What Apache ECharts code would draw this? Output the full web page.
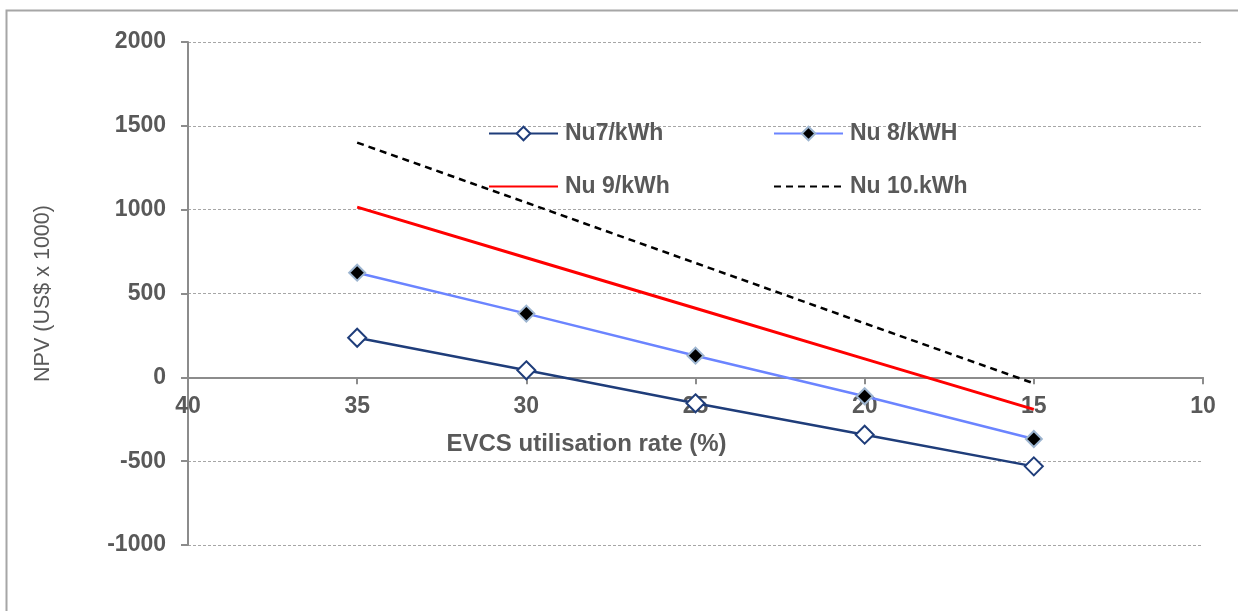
<!DOCTYPE html>
<html>
<head>
<meta charset="utf-8">
<script src="https://cdn.jsdelivr.net/npm/echarts@6/dist/echarts.min.js"></script>
<style>
  html, body { margin: 0; padding: 0; background: #fff; }
  #chart-container { width: 1238px; height: 611px; }
</style>
</head>
<body>
<div id="chart-container"></div>
<script>
// utilisation rate (%) on the x axis, NPV (US$ x 1000) on the y axis
const utilisation = [35, 30, 25, 20, 15];
const nu7 = [236, 42, -155, -342, -531];
const nu8 = [624, 380, 129, -113, -368];
const nu9 = [1015, 713, 412, 110, -191];
const nu10 = [1400, 1042, 682, 322, -36];
const seriesNames = ['Nu7/kWh', 'Nu 8/kWH', 'Nu 9/kWh', 'Nu 10.kWh'];

const pairs = (vals) => utilisation.map((u, i) => [u, vals[i]]);

const chartDom = document.getElementById('chart-container');
const myChart = echarts.init(chartDom);

const font = 'Liberation Sans';
const textGrey = '#595959';
const axisGrey = '#8c8c8c';

const gridTop = 42;
const gridBottom = 66;
const plotHeight = 611 - gridTop - gridBottom;
const yMin = -1000;
const yMax = 2000;
// x axis sits on NPV = 0, so lift it up from the grid bottom
const xAxisOffset = -plotHeight * (0 - yMin) / (yMax - yMin);

const legendBase = {
    orient: 'horizontal',
    padding: 0,
    itemWidth: 69,
    itemHeight: 17,
    textStyle: { fontFamily: font, fontSize: 23, fontWeight: 'bold', color: textGrey, padding: [0, 0, 0, 2] }
};

const option = {
    animation: false,
    graphic: [
        {
            type: 'rect',
            shape: { x: 6.5, y: 10.5, width: 1300, height: 700 },
            style: { fill: 'none', stroke: '#a6a6a6', lineWidth: 2 },
            silent: true
        }
    ],
    legend: [
        Object.assign({ data: [seriesNames[0]], left: 488, top: 122 }, legendBase),
        Object.assign({ data: [seriesNames[1]], left: 773, top: 122 }, legendBase),
        Object.assign({ data: [{ name: seriesNames[2], itemStyle: { opacity: 0 } }], left: 488, top: 175 }, legendBase),
        Object.assign({ data: [{ name: seriesNames[3], itemStyle: { opacity: 0 } }], left: 773, top: 175 }, legendBase)
    ],
    grid: {
        left: 188,
        right: 35,
        top: gridTop,
        bottom: gridBottom,
        containLabel: false
    },
    xAxis: {
        type: 'value',
        min: 10,
        max: 40,
        interval: 5,
        inverse: true,
        offset: xAxisOffset,
        name: 'EVCS utilisation rate (%)',
        nameLocation: 'middle',
        nameGap: 55,
        nameTextStyle: {
            fontFamily: font, fontSize: 24, fontWeight: 'bold', color: textGrey,
            padding: [0, 218, 0, 0]
        },
        axisLine: { onZero: false, lineStyle: { color: axisGrey, width: 2 } },
        axisTick: { show: true, length: 7, lineStyle: { color: axisGrey, width: 2 } },
        axisLabel: { margin: 18, fontFamily: font, fontSize: 23, fontWeight: 'bold', color: textGrey },
        splitLine: { show: false }
    },
    yAxis: {
        type: 'value',
        min: yMin,
        max: yMax,
        interval: 500,
        name: 'NPV (US$ x 1000)',
        nameLocation: 'middle',
        nameRotate: 90,
        nameGap: 134,
        nameTextStyle: { fontFamily: font, fontSize: 21.5, color: textGrey },
        axisLine: { show: true, lineStyle: { color: axisGrey, width: 2 } },
        axisTick: { show: true, length: 7, lineStyle: { color: axisGrey, width: 2 } },
        axisLabel: {
            margin: 22, fontFamily: font, fontSize: 23, fontWeight: 'bold', color: textGrey,
            formatter: (v) => String(v)
        },
        splitLine: { show: true, lineStyle: { color: '#a6a6a6', type: [3, 2], width: 1 } }
    },
    series: [
        {
            name: seriesNames[0],
            type: 'line',
            data: pairs(nu7),
            symbol: 'diamond',
            symbolSize: 18,
            lineStyle: { color: '#1f3d7a', width: 2.5 },
            itemStyle: { color: '#fff', borderColor: '#1f3d7a', borderWidth: 2 },
            z: 5
        },
        {
            name: seriesNames[1],
            type: 'line',
            data: pairs(nu8),
            symbol: 'diamond',
            symbolSize: 16,
            lineStyle: { color: '#6b84ff', width: 2.5 },
            itemStyle: { color: '#000', borderColor: '#9db5d0', borderWidth: 2 },
            z: 4
        },
        {
            name: seriesNames[2],
            type: 'line',
            data: pairs(nu9),
            symbol: 'none',
            lineStyle: { color: '#ff0000', width: 3 },
            itemStyle: { color: '#ff0000' },
            z: 3
        },
        {
            name: seriesNames[3],
            type: 'line',
            data: pairs(nu10),
            symbol: 'none',
            lineStyle: { color: '#000', width: 2.5, type: [7, 5] },
            itemStyle: { color: '#000' },
            z: 3
        }
    ]
};

myChart.setOption(option);
</script>
</body>
</html>
